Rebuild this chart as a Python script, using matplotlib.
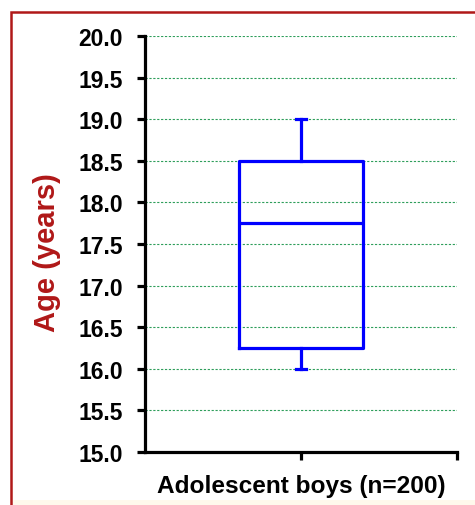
import matplotlib
matplotlib.use("Agg")
import matplotlib.pyplot as plt
from matplotlib.patches import Rectangle

# box summary
group = "Adolescent boys (n=200)"
whisker_low = 16.0
q1 = 16.25
median = 17.75
q3 = 18.5
whisker_high = 19.0
y_ticks = [15.0, 15.5, 16.0, 16.5, 17.0, 17.5, 18.0, 18.5, 19.0, 19.5, 20.0]

plt.rcParams['font.family'] = ['Liberation Sans', 'DejaVu Sans']

fig = plt.figure(figsize=(4.75, 5.06), dpi=100)
fig.patch.set_facecolor("white")

# red frame round the figure
fig.patches.append(Rectangle((11 / 475, -0.05), 1.1, 1 - 13 / 506 + 0.05,
                             transform=fig.transFigure, fill=False,
                             edgecolor="#B01818", linewidth=1.8, zorder=0))
fig.patches.append(Rectangle((13 / 475, 0), 1, 5 / 506, transform=fig.transFigure,
                             facecolor="#FFF9EC", edgecolor="none", zorder=0))

ax = fig.add_axes([145 / 475, 53 / 506, 312 / 475, 416 / 506])

stats = [{"med": median, "q1": q1, "q3": q3,
          "whislo": whisker_low, "whishi": whisker_high, "fliers": [], "label": group}]
blue = "#0000FF"
ax.bxp(stats, positions=[1], widths=0.4, capwidths=0.03, showfliers=False,
       boxprops=dict(color=blue, linewidth=2.3),
       whiskerprops=dict(color=blue, linewidth=2.3),
       capprops=dict(color=blue, linewidth=2.3),
       medianprops=dict(color=blue, linewidth=2.3))

ax.set_xlim(0.5, 1.5)
ax.set_ylim(15.0, 20.0)
ax.set_yticks(y_ticks)
ax.set_yticklabels([f"{v:.1f}" for v in y_ticks], fontsize=16.5, fontweight="bold")
ax.set_xticks([1, 1.5])
ax.set_xticklabels([group, ""], fontsize=17.6, fontweight="bold")

ax.yaxis.grid(True, linestyle=(0, (2, 1.5)), color="#2E9E5B", linewidth=0.8)
ax.set_axisbelow(True)

for side in ["top", "right"]:
    ax.spines[side].set_visible(False)
for side in ["left", "bottom"]:
    ax.spines[side].set_linewidth(2.3)
ax.tick_params(axis="y", direction="out", length=6, width=2.3, pad=10)
ax.tick_params(axis="x", direction="out", length=6, width=2.3, pad=10)

ax.set_ylabel("Age (years)", fontsize=21, fontweight="bold", color="#B01818")
ax.yaxis.set_label_coords(-0.27, 0.483)

fig.savefig("out.png", dpi=100)
